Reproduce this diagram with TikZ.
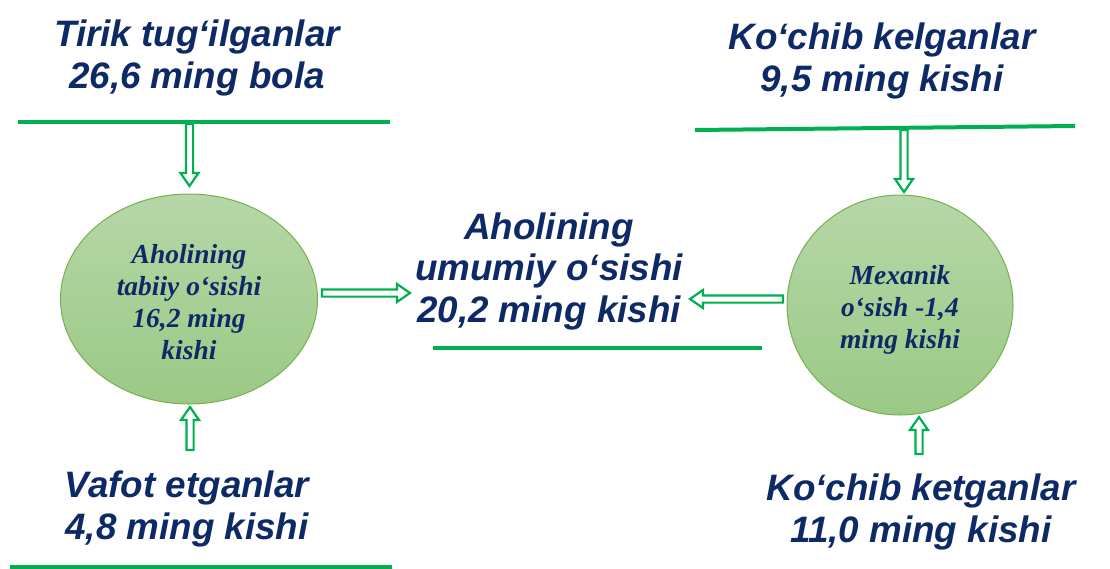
\documentclass[tikz,border=0pt]{standalone}
\usepackage{fontspec}
\newfontfamily\hdfont{Liberation Sans}
\newfontfamily\elfont{Liberation Serif}
\usetikzlibrary{calc,shapes.geometric}
\definecolor{navy}{HTML}{0E2A66}
\definecolor{lgreen}{HTML}{00B050}
\definecolor{etop}{HTML}{B6D7A8}
\definecolor{ebot}{HTML}{9BC985}
\definecolor{eborder}{HTML}{76B04F}
\tikzset{
  head/.style={text=navy, align=center, font=\hdfont\bfseries\itshape\fontsize{36.8}{41.5}\selectfont, inner sep=0pt},
  etext/.style={text=navy, align=center, font=\elfont\bfseries\itshape\fontsize{27.5}{32}\selectfont},
  gline/.style={draw=lgreen, line width=4pt},
  bubble/.style={ellipse, draw=eborder, line width=1pt, top color=etop, bottom color=ebot},
  hollow/.style={draw=lgreen, line width=2.2pt, fill=white, line join=miter,
    to path={let \p1=($(\tikztotarget)-(\tikztostart)$), \n1={veclen(\x1,\y1)}, \n2={atan2(\y1,\x1)} in
      ([shift={(\tikztostart)},rotate=\n2]0pt,-3.6pt)
      -- ([shift={(\tikztostart)},rotate=\n2]{\n1*1pt-13pt},-3.6pt)
      -- ([shift={(\tikztostart)},rotate=\n2]{\n1*1pt-13pt},-9pt)
      -- ([shift={(\tikztostart)},rotate=\n2]{\n1*1pt},0pt)
      -- ([shift={(\tikztostart)},rotate=\n2]{\n1*1pt-13pt},9pt)
      -- ([shift={(\tikztostart)},rotate=\n2]{\n1*1pt-13pt},3.6pt)
      -- ([shift={(\tikztostart)},rotate=\n2]0pt,3.6pt) -- cycle}}
}
\begin{document}
\begin{tikzpicture}[x=1pt,y=-1pt]
\useasboundingbox (0,0) rectangle (1110,568);
% lines
\draw[gline] (18,122) coordinate (tlL) -- (390,122) coordinate (tlR);
\draw[gline] (695,130) coordinate (trL) -- (1075,126) coordinate (trR);
\draw[gline] (433,348) coordinate (mL) -- (762,348) coordinate (mR);
\draw[gline] (10,566.5) coordinate (blL) -- (392,566.5) coordinate (blR);
% ellipses
\node[bubble, minimum width=257pt, minimum height=210pt] (le) at (189,299) {};
\node[etext] (let) at ([yshift=-3.5pt]le.center) {Aholining\\tabiiy o‘sishi\\16,2 ming\\kishi};
\node[bubble, minimum width=226pt, minimum height=220pt] (re) at (900,305) {};
\node[etext] (ret) at ([yshift=-5pt]re.center) {Mexanik\\o‘sish -1,4\\ming kishi};
% texts
\node[head] (t1) at (197,58) {Tirik tug‘ilganlar\\26,6 ming bola};
\node[head] (t2) at (882,61) {Ko‘chib kelganlar\\9,5 ming kishi};
\node[head] (t3) at (549,271) {Aholining\\umumiy o‘sishi\\20,2 ming kishi};
\node[head] (t4) at (187,509) {Vafot etganlar\\4,8 ming kishi};
\node[head] (t5) at (921,512) {Ko‘chib ketganlar\\11,0 ming kishi};
% arrows
\coordinate (a1s) at (189.5,124);
\coordinate (a1e) at (189.5,186);
\draw[hollow] (a1s) to (a1e);
\coordinate (a2s) at (190,450);
\coordinate (a2e) at (190,407);
\draw[hollow] (a2s) to (a2e);
\coordinate (a3s) at (322,293);
\coordinate (a3e) at (410,293);
\draw[hollow] (a3s) to (a3e);
\coordinate (a4s) at (783,299);
\coordinate (a4e) at (690,299);
\draw[hollow] (a4s) to (a4e);
\coordinate (a5s) at (904,130);
\coordinate (a5e) at (904,192);
\draw[hollow] (a5s) to (a5e);
\coordinate (a6s) at (919,454);
\coordinate (a6e) at (919,417);
\draw[hollow] (a6s) to (a6e);
\end{tikzpicture}
\end{document}
